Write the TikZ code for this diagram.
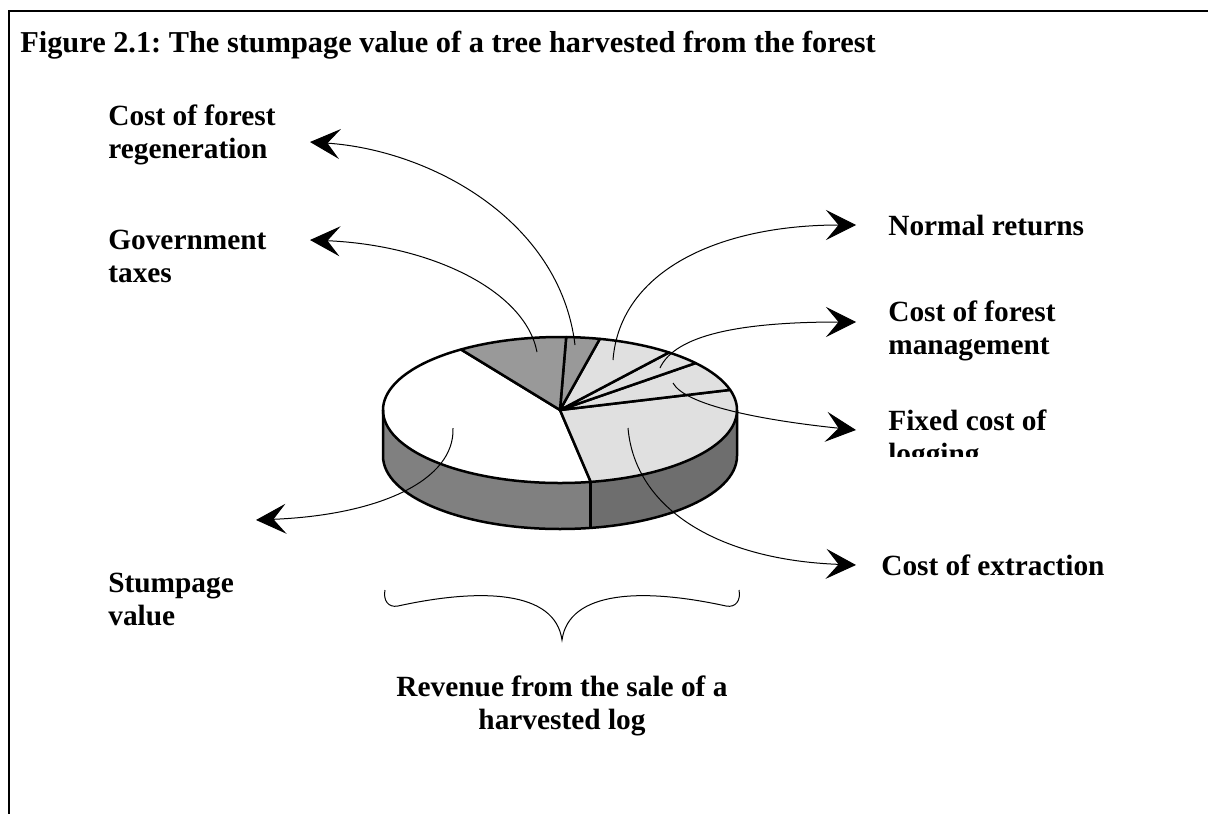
\documentclass[tikz,border=0pt]{standalone}
\usepackage{fontspec}
\setmainfont{Liberation Serif}
\usetikzlibrary{arrows.meta}

\definecolor{pieside}{gray}{0.50}
\definecolor{piesidedark}{gray}{0.43}
\definecolor{piemid}{gray}{0.60}
\definecolor{pielight}{gray}{0.88}

\begin{document}
\frenchspacing
\begin{tikzpicture}[x=0.6pt,y=-0.6pt,
  lbl/.style={font=\bfseries\fontsize{17.6}{19.8}\selectfont, inner sep=0pt, align=left, anchor=west},
  lead/.style={line width=0.6pt, -{Stealth[length=18pt,width=18pt,inset=7.5pt]}},
  rim/.style={line width=1.5pt, line join=round},
  ell/.style={x radius=177, y radius=73},
]
\useasboundingbox (0,0) rectangle (1208,814);

% frame
\draw[line width=1.1pt] (1208,11) -- (9,11) -- (9,814);

% title
\node[lbl, font=\bfseries\fontsize{18.2}{20}\selectfont, anchor=base west] (title) at (20,52)
  {Figure 2.1: The stumpage value of a tree harvested from the forest};

% pie chart (local y axis points up)
\begin{scope}[shift={(560,410)}, x=0.6pt, y=0.6pt]
  \fill[pieside] (180:177 and 73) arc[ell,start angle=180,end angle=280]
     -- ++(0,-46) arc[ell,start angle=280,end angle=180] -- cycle;
  \fill[piesidedark] (280:177 and 73) arc[ell,start angle=280,end angle=360]
     -- ++(0,-46) arc[ell,start angle=360,end angle=280] -- cycle;
  \foreach \a/\b/\c in {124/280/white, 280/376/pielight, 16/40/pielight,
                        40/52/pielight, 52/77/pielight, 77/88/piemid, 88/124/piemid}
    \filldraw[fill=\c, rim] (0,0) -- (\a:177 and 73) arc[ell,start angle=\a,end angle=\b] -- cycle;
  \draw[rim] (180:177 and 73) -- ++(0,-46) arc[ell,start angle=180,end angle=360] -- ++(0,46);
  \draw[rim] (280:177 and 73) -- ++(0,-46);
\end{scope}

% labels
\node[lbl] (lRegen)  at (108,135) {Cost of forest\\regeneration};
\node[lbl] (lTax)    at (108,256) {Government\\taxes};
\node[lbl] (lStump)  at (108,599) {Stumpage\\value};
\node[lbl] (lNormal) at (888,225) {Normal returns};
\node[lbl] (lMgmt)   at (888,331) {Cost of forest\\management};
\begin{scope}
  \clip (870,380) rectangle (1150,456);
  \node[lbl] (lLog) at (888,440) {Fixed cost of\\logging};
\end{scope}
\node[lbl] (lExtr)   at (881,565) {Cost of extraction};
\node[lbl, align=center, anchor=center] (lRev) at (562,706)
  {Revenue from the sale of a\\harvested log};

% leader start points inside the slices
\coordinate (sRegen)  at (575,345);
\coordinate (sTax)    at (537,352);
\coordinate (sNormal) at (613,360);
\coordinate (sMgmt)   at (660,368);
\coordinate (sLog)    at (673,383);
\coordinate (sExtr)   at (628,428);
\coordinate (sStump)  at (453,428);

% arrow tips beside the labels
\coordinate (tRegen)  at (310,142);
\coordinate (tTax)    at (310,240);
\coordinate (tNormal) at (856,225);
\coordinate (tMgmt)   at (856,322);
\coordinate (tLog)    at (856,430);
\coordinate (tExtr)   at (856,565);
\coordinate (tStump)  at (256,520);

% leaders
\draw[lead] (sRegen)  .. controls +(-15,-125) and +(120,8)  .. (tRegen);
\draw[lead] (sTax)    .. controls +(-12,-62)  and +(120,5)  .. (tTax);
\draw[lead] (sNormal) .. controls +(7,-90)    and +(-136,0) .. (tNormal);
\draw[lead] (sMgmt)   .. controls +(15,-33)   and +(-116,0) .. (tMgmt);
\draw[lead] (sLog)    .. controls +(12,22)    and +(-96,-10) .. (tLog);
\draw[lead] (sExtr)   .. controls +(7,82)     and +(-136,-5) .. (tExtr);
\draw[lead] (sStump)  .. controls +(2,52)     and +(124,-5) .. (tStump);

% brace under the pie
\coordinate (bL) at (385,590);
\coordinate (bR) at (739,590);
\coordinate (bTip) at (562,640);
\draw[line width=0.6pt]
  (bL) .. controls (383,600) and (388,608) .. (398,606)
       .. controls (480,588) and (555,590) .. (bTip)
       .. controls (569,590) and (644,588) .. (726,606)
       .. controls (736,608) and (741,600) .. (bR);
\end{tikzpicture}
\end{document}
